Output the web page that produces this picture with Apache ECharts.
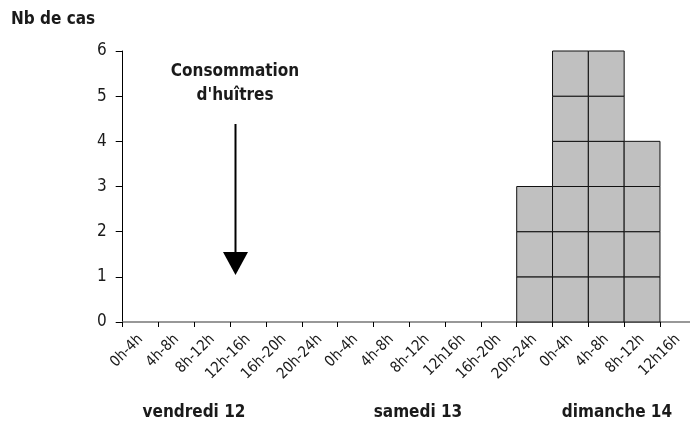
<!DOCTYPE html>
<html>
<head>
    <meta charset="utf-8">
    <title>Nb de cas</title>
    <script src="https://cdn.jsdelivr.net/npm/echarts@6/dist/echarts.min.js"></script>
</head>
<body style="margin:0;background:#fff">
<div id="main" style="width: 690px;height:423px;"></div>
<script type="text/javascript">
    // tranches horaires de 4h
    var tranches = ['0h-4h', '4h-8h', '8h-12h', '12h-16h', '16h-20h', '20h-24h',
                    '0h-4h', '4h-8h', '8h-12h', '12h16h', '16h-20h', '20h-24h',
                    '0h-4h', '4h-8h', '8h-12h', '12h16h'];
    // nombre de cas par tranche
    var cas = [0, 0, 0, 0, 0, 0, 0, 0, 0, 0, 0, 3, 6, 6, 4, 0];
    var yTicks = [0, 1, 2, 3, 4, 5, 6];
    var jours = ['vendredi 12', 'samedi 13', 'dimanche 14'];

    var police = '"Liberation Sans Narrow", "DejaVu Sans Condensed", "Noto Sans", sans-serif';
    var myChart = echarts.init(document.getElementById('main'));

    var option = {
        animation: false,
        grid: { left: 122.7, top: 51, width: 573.1, bottom: 101, outerBoundsMode: 'none' },
        xAxis: {
            type: 'category',
            data: tranches,
            boundaryGap: true,
            axisLine: { lineStyle: { color: '#777', width: 1.5 } },
            axisTick: { show: true, length: 5, lineStyle: { color: '#000' } },
            axisLabel: {
                interval: 0, rotate: 45, margin: 15,
                fontFamily: police, fontSize: 15, color: '#1a1a1a'
            }
        },
        yAxis: {
            type: 'value',
            min: yTicks[0],
            max: yTicks[yTicks.length - 1],
            interval: 1,
            axisLine: { show: true, lineStyle: { color: '#000' } },
            axisTick: { show: true, length: 7, lineStyle: { color: '#000' } },
            axisLabel: { margin: 16, fontFamily: police, fontSize: 17, color: '#1a1a1a' },
            splitLine: { show: false }
        },
        series: [{
            type: 'custom',
            encode: { x: 0, y: 1 },
            data: cas.map(function (v, i) { return [i, v]; }),
            renderItem: function (params, api) {
                var idx = api.value(0), n = api.value(1);
                var w = api.size([1, 0])[0];
                var boxes = [];
                for (var j = 0; j < n; j++) {
                    var p0 = api.coord([idx, j]);
                    var p1 = api.coord([idx, j + 1]);
                    boxes.push({
                        type: 'rect',
                        shape: { x: p0[0] - w / 2, y: p1[1], width: w, height: p0[1] - p1[1] },
                        style: { fill: '#c0c0c0', stroke: '#111', lineWidth: 1 }
                    });
                }
                return { type: 'group', children: boxes };
            }
        }],
        graphic: [
            { type: 'text', left: 11, top: 11,
              style: { text: 'Nb de cas', font: 'bold 17px ' + police, fill: '#1a1a1a' } },
            { type: 'text', x: 235, y: 60,
              style: { text: 'Consommation\nd\'huîtres', font: 'bold 17px ' + police,
                       fill: '#1a1a1a', align: 'center', lineHeight: 24 } },
            { type: 'line', shape: { x1: 235.5, y1: 124, x2: 235.5, y2: 262 },
              style: { stroke: '#000', lineWidth: 2 } },
            { type: 'polygon', shape: { points: [[223, 252], [248, 252], [235.5, 275]] },
              style: { fill: '#000' } },
            { type: 'text', x: 194, y: 413,
              style: { text: jours[0], font: 'bold 17px ' + police, fill: '#1a1a1a',
                       align: 'center', verticalAlign: 'middle' } },
            { type: 'text', x: 418, y: 413,
              style: { text: jours[1], font: 'bold 17px ' + police, fill: '#1a1a1a',
                       align: 'center', verticalAlign: 'middle' } },
            { type: 'text', x: 617, y: 413,
              style: { text: jours[2], font: 'bold 17px ' + police, fill: '#1a1a1a',
                       align: 'center', verticalAlign: 'middle' } }
        ]
    };

    myChart.setOption(option);
</script>
</body>
</html>
